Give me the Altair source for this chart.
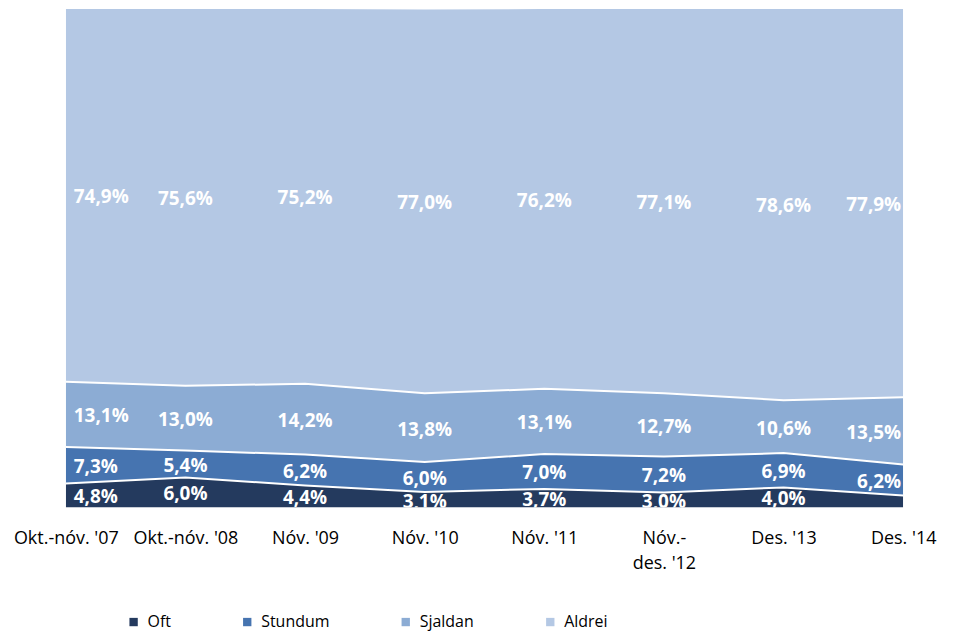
import altair as alt
import pandas as pd

categories = ["Okt.-nóv. '07", "Okt.-nóv. '08", "Nóv. '09", "Nóv. '10",
              "Nóv. '11", "Nóv.-|des. '12", "Des. '13", "Des. '14"]
series = ["Oft", "Stundum", "Sjaldan", "Aldrei"]
oft = [4.8, 6.0, 4.4, 3.1, 3.7, 3.0, 4.0, 2.4]
stundum = [7.3, 5.4, 6.2, 6.0, 7.0, 7.2, 6.9, 6.2]
sjaldan = [13.1, 13.0, 14.2, 13.8, 13.1, 12.7, 10.6, 13.5]
aldrei = [74.9, 75.6, 75.2, 77.0, 76.2, 77.1, 78.6, 77.9]
colors = ["#243A5E", "#4674B0", "#8CACD4", "#B4C8E4"]

rows = []
for s_i, (name, vals) in enumerate(zip(series, [oft, stundum, sjaldan, aldrei])):
    for c_i, (cat, v) in enumerate(zip(categories, vals)):
        rows.append({"cat": cat, "idx": c_i, "series": name, "ord": s_i, "value": v})
df = pd.DataFrame(rows)

base = alt.Chart(df).transform_stack(
    stack="value", groupby=["cat"], as_=["y0", "y1"],
    sort=[alt.SortField("ord", order="ascending")]
)

x = alt.X("cat:N", sort=categories, title=None,
          scale=alt.Scale(type="point", padding=0),
          axis=alt.Axis(labelAngle=0, labelPadding=22, ticks=False, domain=False,
                        labelFontSize=18, labelFont="Open Sans", labelColor="#000000",
                        labelLineHeight=25, labelOverlap=False,
                        labelExpr="split(datum.label, '|')"))
yscale = alt.Scale(domain=[0, 100], nice=False, zero=True)

area = base.mark_area(clip=True).encode(
    x=x,
    y=alt.Y("y0:Q", scale=yscale, axis=None, title=None),
    y2="y1:Q",
    color=alt.Color("series:N", sort=series,
                    scale=alt.Scale(domain=series, range=colors),
                    legend=alt.Legend(orient="none", legendX=60, legendY=607,
                                      direction="horizontal", title=None,
                                      symbolType="square", symbolSize=70,
                                      symbolStrokeWidth=0,
                                      labelFontSize=16, labelFont="Open Sans",
                                      labelColor="#000000", labelOffset=6,
                                      columnPadding=68)),
)

lines = base.transform_filter("datum.ord < 3").mark_line(
    color="white", strokeWidth=2, clip=True
).encode(
    x=x,
    y=alt.Y("y1:Q", scale=yscale, axis=None),
    detail="series:N",
)

tb = base.transform_calculate(
    mid="(datum.y0 + datum.y1) / 2",
    lab="replace(format(datum.value, '.1f'), '.', ',') + '%'",
).transform_filter("!(datum.ord == 0 && datum.idx == 7)")

def txt(flt, align, dx):
    return tb.transform_filter(flt).mark_text(
        color="white", font="Open Sans", fontSize=19, fontWeight="bold",
        align=align, dx=dx, dy=2, baseline="middle", clip=True
    ).encode(
        x=x,
        y=alt.Y("mid:Q", scale=yscale, axis=None),
        text="lab:N",
    )

t_first = txt("datum.idx == 0", "left", 8)
t_mid = txt("datum.idx > 0 && datum.idx < 7", "center", 0)
t_last = txt("datum.idx == 7", "right", -2)

chart = alt.layer(area, lines, t_first, t_mid, t_last).properties(
    width=840, height=500,
    autosize=alt.AutoSizeParams(type="none"),
    padding={"left": 58, "top": 0, "right": 50, "bottom": 124},
).configure_view(stroke=None)

chart.save("out.html", embed_options={"renderer": "svg", "actions": False})
